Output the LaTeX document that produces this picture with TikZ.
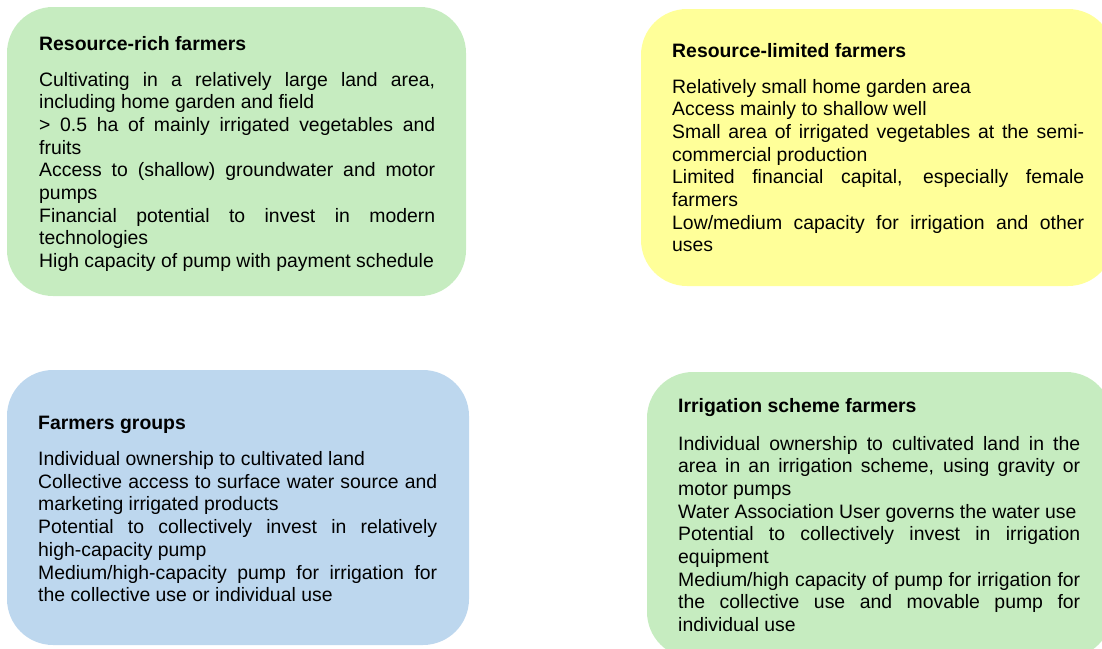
\documentclass[tikz,border=0pt]{standalone}
\usepackage{fontspec}
\setmainfont{Liberation Sans}

\definecolor{farmgreen}{RGB}{198,236,192}
\definecolor{farmyellow}{RGB}{255,255,153}
\definecolor{farmblue}{RGB}{189,215,238}

\begin{document}
\begin{tikzpicture}[x=1pt,y=-1pt,
  card/.style={rounded corners=46pt},
  cardtitle/.style={anchor=base west,inner sep=0pt,font=\fontsize{19.4}{22.7}\selectfont\bfseries},
  cardtext/.style={anchor=base west,inner sep=0pt,align=justify,font=\fontsize{19.4}{22.7}\selectfont}]

\clip (0,0) rectangle (1102,648);

\fill[farmgreen,card] (7,7) rectangle (466,296);
\fill[farmyellow,card] (641,9) rectangle (1114,286);
\fill[farmblue,card] (7,370) rectangle (469,645);
\fill[farmgreen,card] (647,372) rectangle (1112,658);

% resource-rich
\node[cardtitle] (richtitle) at (39,50) {Resource-rich farmers};
\node[cardtext,text width=396pt] (richtext) at (39,86) {Cultivating in a relatively large land area,\linebreak including home garden and field\\
> 0.5 ha of mainly irrigated vegetables and\linebreak fruits\\
Access to (shallow) groundwater and motor\linebreak pumps\\
Financial potential to invest in modern\linebreak technologies\\
High capacity of pump with payment schedule};

% resource-limited
\node[cardtitle] (limtitle) at (672,57.5) {Resource-limited farmers};
\node[cardtext,text width=412pt] (limtext) at (672,93) {Relatively small home garden area\\
Access mainly to shallow well\\
Small area of irrigated vegetables at the semi-\linebreak commercial production\\
Limited financial capital, especially female\linebreak farmers\\
Low/medium capacity for irrigation and other\linebreak uses};

% groups
\node[cardtitle] (grptitle) at (38,429) {Farmers groups};
\node[cardtext,text width=399pt] (grptext) at (38,465.5) {Individual ownership to cultivated land\\
Collective access to surface water source and\linebreak marketing irrigated products\\
Potential to collectively invest in relatively\linebreak high-capacity pump\\
Medium/high-capacity pump for irrigation for\linebreak the collective use or individual use};

% irrigation scheme
\node[cardtitle] (schtitle) at (678,412.5) {Irrigation scheme farmers};
\node[cardtext,text width=402pt] (schtext) at (678,450) {Individual ownership to cultivated land in the\linebreak area in an irrigation scheme, using gravity or\linebreak motor pumps\\
Water Association User governs the water use\\
Potential to collectively invest in irrigation\linebreak equipment\\
Medium/high capacity of pump for irrigation for\linebreak the collective use and movable pump for\linebreak individual use};

\end{tikzpicture}
\end{document}
